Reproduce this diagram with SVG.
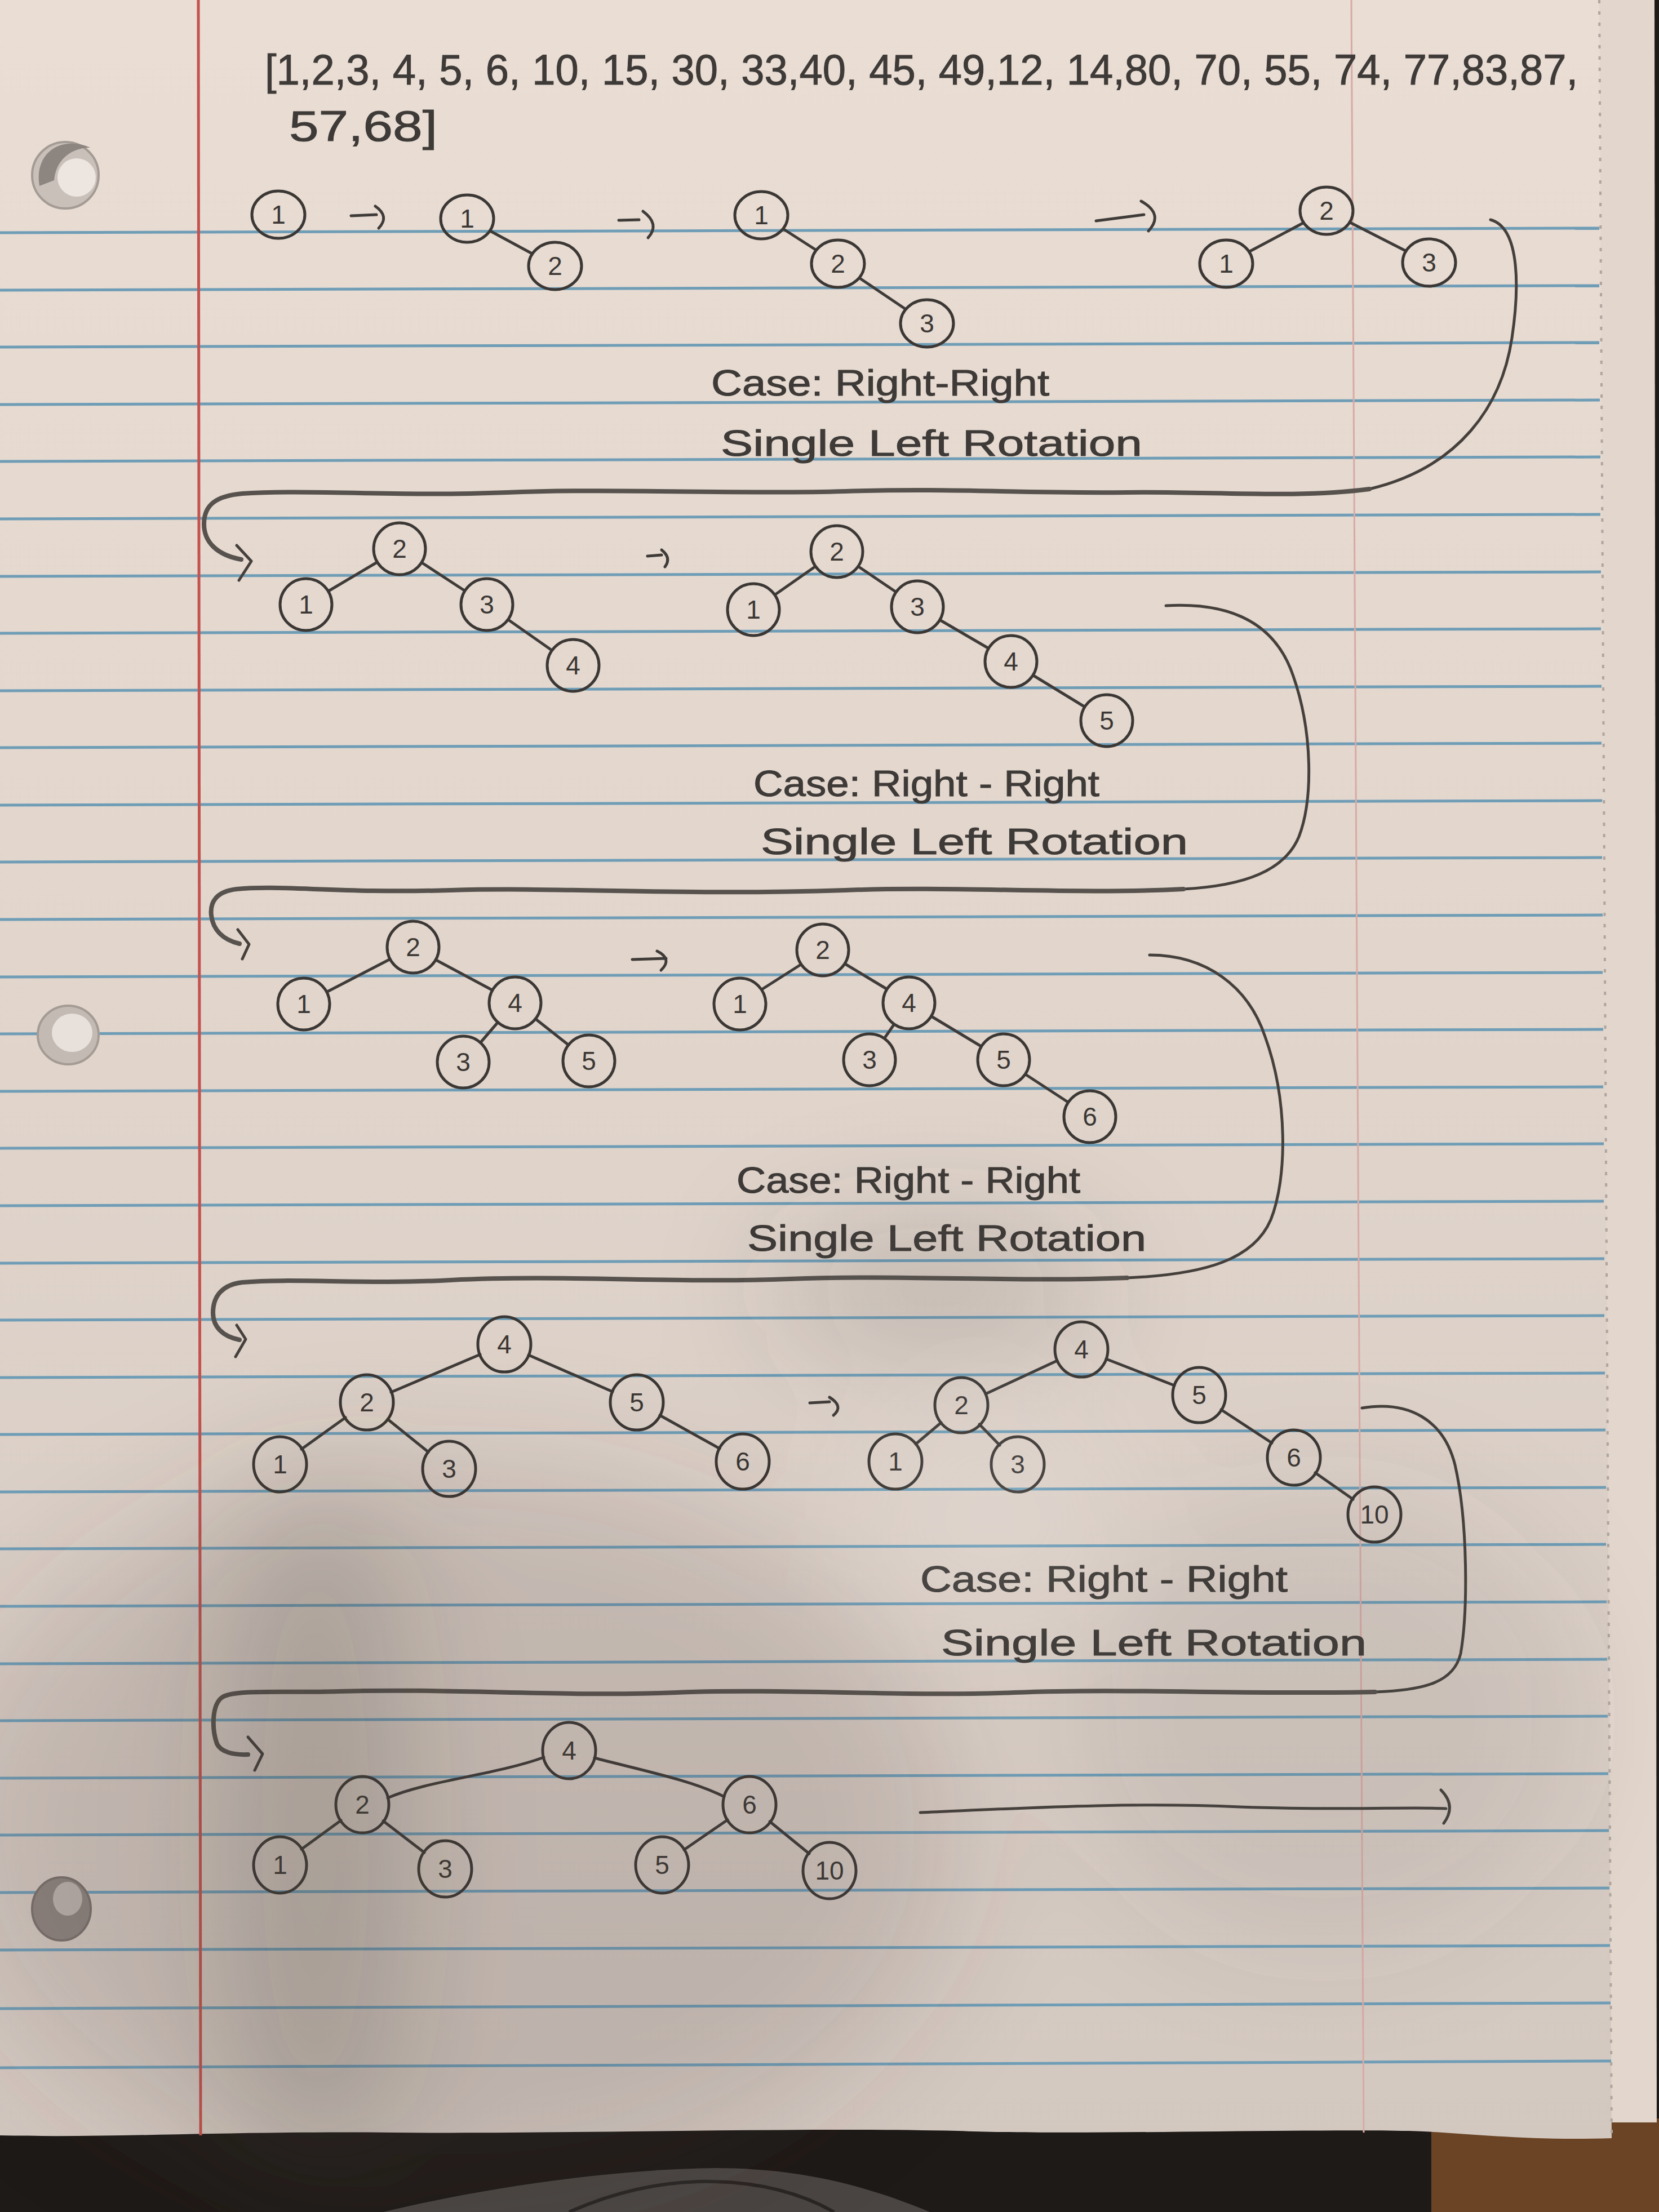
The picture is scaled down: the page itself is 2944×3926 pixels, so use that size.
<svg xmlns="http://www.w3.org/2000/svg" width="2944" height="3926" viewBox="0 0 2944 3926">
<defs>
<style>
.n ellipse{fill:none;stroke:#3b3734;stroke-width:5}
.n text{font-family:"Liberation Sans Narrow","Liberation Sans",sans-serif;font-size:46px;fill:#3b3734;text-anchor:middle}
.e{fill:none;stroke:#3f3b38;stroke-width:5;stroke-linecap:round;stroke-linejoin:round}
.flow{fill:none;stroke:#45403c;stroke-width:5;stroke-linecap:round;stroke-linejoin:round}
.flowb{fill:none;stroke:#57524d;stroke-width:8;stroke-linecap:round;stroke-linejoin:round}
.hand{font-family:"Liberation Sans Narrow","Liberation Sans",sans-serif;fill:#3e3a37;stroke:#3e3a37;stroke-width:1}
.blue{stroke:#6f9db6;stroke-width:5}
</style>
<linearGradient id="paperG" x1="0" y1="0" x2="0" y2="1">
<stop offset="0" stop-color="#e9ddd4"/>
<stop offset="0.5" stop-color="#e0d4cb"/>
<stop offset="1" stop-color="#d3c8c0"/>
</linearGradient>
<filter id="soft" x="-50%" y="-50%" width="200%" height="200%"><feGaussianBlur stdDeviation="110"/></filter>
</defs>

<!-- background / table -->
<rect x="0" y="0" width="2944" height="3926" fill="#1e1a17"/>
<rect x="2540" y="3760" width="404" height="166" fill="#6a4425"/>
<path d="M680,3926 C850,3885 1080,3850 1270,3848 C1420,3848 1540,3880 1650,3926 Z" fill="#4a4542"/>
<path d="M1010,3926 C1080,3895 1160,3874 1240,3872 C1340,3870 1420,3892 1480,3926" fill="none" stroke="#2a2624" stroke-width="6"/>

<!-- second sheet on right -->
<path d="M2830,0 L2936,0 L2940,3767 L2850,3767 Z" fill="#e2d6cd"/>
<!-- main sheet -->
<path d="M0,0 L2838,0 L2860,3795 C2700,3800 2600,3785 2500,3782 C2300,3778 1900,3790 1700,3782 C1400,3775 1000,3788 700,3785 C400,3782 200,3795 0,3790 Z" fill="url(#paperG)"/>
<line x1="2838" y1="0" x2="2860" y2="3790" stroke="#b0a69f" stroke-width="4" stroke-dasharray="6 14"/>

<!-- ruling -->
<g id="ruling">
<line class="blue" x1="0" y1="413" x2="2838" y2="405"/>
<line class="blue" x1="0" y1="515" x2="2838" y2="507"/>
<line class="blue" x1="0" y1="616" x2="2838" y2="608"/>
<line class="blue" x1="0" y1="718" x2="2839" y2="710"/>
<line class="blue" x1="0" y1="819" x2="2840" y2="811"/>
<line class="blue" x1="0" y1="921" x2="2840" y2="913"/>
<line class="blue" x1="0" y1="1023" x2="2841" y2="1015"/>
<line class="blue" x1="0" y1="1124" x2="2841" y2="1116"/>
<line class="blue" x1="0" y1="1226" x2="2842" y2="1218"/>
<line class="blue" x1="0" y1="1327" x2="2842" y2="1319"/>
<line class="blue" x1="0" y1="1429" x2="2843" y2="1421"/>
<line class="blue" x1="0" y1="1530" x2="2843" y2="1522"/>
<line class="blue" x1="0" y1="1632" x2="2844" y2="1624"/>
<line class="blue" x1="0" y1="1734" x2="2844" y2="1726"/>
<line class="blue" x1="0" y1="1835" x2="2845" y2="1827"/>
<line class="blue" x1="0" y1="1937" x2="2845" y2="1929"/>
<line class="blue" x1="0" y1="2038" x2="2846" y2="2030"/>
<line class="blue" x1="0" y1="2140" x2="2846" y2="2132"/>
<line class="blue" x1="0" y1="2242" x2="2847" y2="2234"/>
<line class="blue" x1="0" y1="2343" x2="2847" y2="2335"/>
<line class="blue" x1="0" y1="2445" x2="2848" y2="2437"/>
<line class="blue" x1="0" y1="2546" x2="2849" y2="2538"/>
<line class="blue" x1="0" y1="2648" x2="2850" y2="2640"/>
<line class="blue" x1="0" y1="2749" x2="2850" y2="2741"/>
<line class="blue" x1="0" y1="2851" x2="2851" y2="2843"/>
<line class="blue" x1="0" y1="2953" x2="2852" y2="2945"/>
<line class="blue" x1="0" y1="3054" x2="2853" y2="3046"/>
<line class="blue" x1="0" y1="3156" x2="2854" y2="3148"/>
<line class="blue" x1="0" y1="3257" x2="2855" y2="3249"/>
<line class="blue" x1="0" y1="3359" x2="2856" y2="3351"/>
<line class="blue" x1="0" y1="3461" x2="2857" y2="3453"/>
<line class="blue" x1="0" y1="3565" x2="2858" y2="3555"/>
<line class="blue" x1="0" y1="3670" x2="2859" y2="3658"/>
</g>
<line x1="352" y1="0" x2="356" y2="3790" stroke="#c4524e" stroke-width="5"/>
<line x1="2398" y1="0" x2="2420" y2="3785" stroke="#d8aaa5" stroke-width="3"/>

<!-- punched holes -->
<g id="holes">
<circle cx="116" cy="311" r="59" fill="#c9c0ba" stroke="#a49b95" stroke-width="4"/>
<path d="M70,330 C60,270 110,240 160,262 C130,262 100,280 96,320 Z" fill="#8d8580"/>
<circle cx="136" cy="315" r="34" fill="#ede6e0"/>
<ellipse cx="121" cy="1837" rx="54" ry="52" fill="#c3bab4" stroke="#a49b95" stroke-width="4"/>
<ellipse cx="128" cy="1833" rx="36" ry="34" fill="#e8e1db"/>
<ellipse cx="109" cy="3388" rx="52" ry="56" fill="#8e8580" stroke="#7b726d" stroke-width="4"/>
<ellipse cx="120" cy="3370" rx="26" ry="30" fill="#bdb5b0"/>
</g>

<!-- title -->
<g id="title">
<text class="hand" x="470" y="150" font-size="76" textLength="2330" lengthAdjust="spacingAndGlyphs">[1,2,3, 4, 5, 6, 10, 15, 30, 33,40, 45, 49,12, 14,80, 70, 55, 74, 77,83,87,</text>
<text class="hand" x="513" y="250" font-size="76" textLength="263" lengthAdjust="spacingAndGlyphs">57,68]</text>
</g>

<!-- connectors -->
<g id="connectors">
<!-- row 1 edges -->
<line class="e" x1="870" y1="410" x2="944" y2="450"/>
<line class="e" x1="1391" y1="407" x2="1447" y2="443"/>
<line class="e" x1="1526" y1="494" x2="1606" y2="548"/>
<line class="e" x1="2312" y1="396" x2="2218" y2="446"/>
<line class="e" x1="2396" y1="395" x2="2494" y2="445"/>
<!-- row 2 edges -->
<line class="e" x1="669" y1="998" x2="583" y2="1049"/>
<line class="e" x1="749" y1="999" x2="824" y2="1048"/>
<line class="e" x1="902" y1="1100" x2="979" y2="1154"/>
<line class="e" x1="1446" y1="1006" x2="1376" y2="1055"/>
<line class="e" x1="1524" y1="1006" x2="1589" y2="1050"/>
<line class="e" x1="1669" y1="1101" x2="1753" y2="1150"/>
<line class="e" x1="1834" y1="1199" x2="1924" y2="1254"/>
<!-- row 3 edges -->
<line class="e" x1="691" y1="1703" x2="581" y2="1760"/>
<line class="e" x1="774" y1="1704" x2="873" y2="1757"/>
<line class="e" x1="883" y1="1815" x2="853" y2="1850"/>
<line class="e" x1="951" y1="1809" x2="1008" y2="1854"/>
<line class="e" x1="1421" y1="1712" x2="1352" y2="1756"/>
<line class="e" x1="1500" y1="1711" x2="1573" y2="1755"/>
<line class="e" x1="1586" y1="1819" x2="1570" y2="1842"/>
<line class="e" x1="1653" y1="1804" x2="1741" y2="1857"/>
<line class="e" x1="1820" y1="1907" x2="1895" y2="1956"/>
<!-- row 4 edges -->
<line class="e" x1="852" y1="2404" x2="694" y2="2471"/>
<line class="e" x1="938" y1="2405" x2="1087" y2="2470"/>
<line class="e" x1="613" y1="2516" x2="535" y2="2572"/>
<line class="e" x1="688" y1="2519" x2="760" y2="2577"/>
<line class="e" x1="1171" y1="2512" x2="1277" y2="2571"/>
<line class="e" x1="1876" y1="2415" x2="1749" y2="2474"/>
<line class="e" x1="1963" y1="2412" x2="2084" y2="2459"/>
<line class="e" x1="1670" y1="2525" x2="1625" y2="2563"/>
<line class="e" x1="1738" y1="2528" x2="1774" y2="2565"/>
<line class="e" x1="2167" y1="2502" x2="2257" y2="2561"/>
<line class="e" x1="2334" y1="2614" x2="2401" y2="2661"/>
<!-- row 5 edges -->
<path class="e" d="M965,3119 C880,3150 760,3160 688,3191"/>
<path class="e" d="M1055,3120 C1130,3140 1230,3160 1285,3189"/>
<line class="e" x1="605" y1="3231" x2="535" y2="3282"/>
<line class="e" x1="680" y1="3232" x2="753" y2="3288"/>
<line class="e" x1="1291" y1="3230" x2="1214" y2="3283"/>
<line class="e" x1="1366" y1="3233" x2="1436" y2="3290"/>

<!-- step arrows -->
<path class="e" d="M623,383 L668,381 M666,366 Q692,384 672,405"/>
<path class="e" d="M1098,391 L1134,390 M1141,375 Q1172,398 1150,422"/>
<path class="e" d="M1945,392 L2030,381 M2025,357 Q2066,380 2038,410"/>
<path class="e" d="M1149,987 L1174,985 M1174,976 Q1192,990 1180,1006"/>
<path class="e" d="M1122,1703 L1182,1701 M1166,1688 Q1194,1702 1173,1722"/>
<path class="e" d="M1437,2490 L1472,2488 M1472,2480 Q1498,2496 1479,2512"/>
<path class="flow" d="M1633,3217 C1800,3210 2000,3198 2200,3207 C2400,3214 2500,3206 2566,3210 M2557,3177 Q2585,3205 2562,3236"/>

<!-- wrap-around connectors -->
<path class="flow" d="M2645,390 C2700,405 2695,520 2683,600 C2665,720 2590,830 2430,868"/>
<path class="flowb" d="M2430,868 C2300,885 2150,872 2000,874 C1800,876 1700,866 1500,872 C1300,878 1100,866 900,874 C700,882 550,868 430,876 C385,880 362,895 362,930 C362,962 385,985 428,993"/>
<path class="flow" d="M420,968 L446,996 L424,1030"/>

<path class="flow" d="M2069,1075 C2190,1068 2265,1110 2295,1200 C2330,1300 2330,1420 2305,1485 C2280,1545 2210,1572 2100,1578"/>
<path class="flowb" d="M2100,1578 C1900,1588 1700,1572 1500,1580 C1200,1590 1000,1574 800,1580 C600,1586 500,1570 420,1578 C385,1582 372,1600 375,1625 C378,1650 395,1668 425,1675"/>
<path class="flow" d="M422,1650 L442,1676 L430,1702"/>

<path class="flow" d="M2040,1695 C2140,1695 2215,1750 2245,1840 C2285,1950 2285,2090 2255,2165 C2225,2235 2140,2262 2000,2268"/>
<path class="flowb" d="M2000,2268 C1800,2276 1600,2262 1400,2270 C1200,2278 1000,2262 800,2272 C650,2280 520,2268 430,2276 C395,2280 378,2300 378,2330 C378,2355 395,2372 425,2378"/>
<path class="flow" d="M420,2352 L436,2377 L418,2408"/>

<path class="flow" d="M2417,2499 C2500,2485 2562,2520 2582,2600 C2605,2700 2605,2860 2592,2935 C2580,2985 2530,3000 2440,3003"/>
<path class="flowb" d="M2440,3003 C2200,3008 2000,2996 1800,3004 C1600,3012 1400,2996 1200,3004 C1000,3012 800,2996 600,3002 C500,3005 420,2998 395,3012 C375,3025 376,3070 385,3095 C392,3110 415,3115 440,3114"/>
<path class="flow" d="M440,3083 L466,3113 L452,3142"/>
</g>

<!-- nodes row 1 -->
<g id="r1-a-1" class="n"><ellipse cx="494" cy="381" rx="47" ry="42"/><text x="494" y="397">1</text></g>
<g id="r1-b-1" class="n"><ellipse cx="829" cy="388" rx="47" ry="42"/><text x="829" y="404">1</text></g>
<g id="r1-b-2" class="n"><ellipse cx="985" cy="472" rx="47" ry="42"/><text x="985" y="488">2</text></g>
<g id="r1-c-1" class="n"><ellipse cx="1351" cy="382" rx="47" ry="42"/><text x="1351" y="398">1</text></g>
<g id="r1-c-2" class="n"><ellipse cx="1487" cy="468" rx="47" ry="42"/><text x="1487" y="484">2</text></g>
<g id="r1-c-3" class="n"><ellipse cx="1645" cy="574" rx="47" ry="42"/><text x="1645" y="590">3</text></g>
<g id="r1-d-2" class="n"><ellipse cx="2354" cy="374" rx="47" ry="42"/><text x="2354" y="390">2</text></g>
<g id="r1-d-1" class="n"><ellipse cx="2176" cy="468" rx="47" ry="42"/><text x="2176" y="484">1</text></g>
<g id="r1-d-3" class="n"><ellipse cx="2536" cy="466" rx="47" ry="42"/><text x="2536" y="482">3</text></g>

<!-- nodes row 2 -->
<g id="r2-a-2" class="n"><ellipse cx="709" cy="974" rx="46" ry="46"/><text x="709" y="990">2</text></g>
<g id="r2-a-1" class="n"><ellipse cx="543" cy="1073" rx="46" ry="46"/><text x="543" y="1089">1</text></g>
<g id="r2-a-3" class="n"><ellipse cx="864" cy="1073" rx="46" ry="46"/><text x="864" y="1089">3</text></g>
<g id="r2-a-4" class="n"><ellipse cx="1017" cy="1181" rx="46" ry="46"/><text x="1017" y="1197">4</text></g>
<g id="r2-b-2" class="n"><ellipse cx="1485" cy="979" rx="46" ry="46"/><text x="1485" y="995">2</text></g>
<g id="r2-b-1" class="n"><ellipse cx="1337" cy="1082" rx="46" ry="46"/><text x="1337" y="1098">1</text></g>
<g id="r2-b-3" class="n"><ellipse cx="1628" cy="1077" rx="46" ry="46"/><text x="1628" y="1093">3</text></g>
<g id="r2-b-4" class="n"><ellipse cx="1794" cy="1174" rx="46" ry="46"/><text x="1794" y="1190">4</text></g>
<g id="r2-b-5" class="n"><ellipse cx="1964" cy="1279" rx="46" ry="46"/><text x="1964" y="1295">5</text></g>

<!-- nodes row 3 -->
<g id="r3-a-2" class="n"><ellipse cx="733" cy="1681" rx="46" ry="46"/><text x="733" y="1697">2</text></g>
<g id="r3-a-1" class="n"><ellipse cx="539" cy="1782" rx="46" ry="46"/><text x="539" y="1798">1</text></g>
<g id="r3-a-4" class="n"><ellipse cx="914" cy="1780" rx="46" ry="46"/><text x="914" y="1796">4</text></g>
<g id="r3-a-3" class="n"><ellipse cx="822" cy="1885" rx="46" ry="46"/><text x="822" y="1901">3</text></g>
<g id="r3-a-5" class="n"><ellipse cx="1045" cy="1883" rx="46" ry="46"/><text x="1045" y="1899">5</text></g>
<g id="r3-b-2" class="n"><ellipse cx="1460" cy="1686" rx="46" ry="46"/><text x="1460" y="1702">2</text></g>
<g id="r3-b-1" class="n"><ellipse cx="1313" cy="1782" rx="46" ry="46"/><text x="1313" y="1798">1</text></g>
<g id="r3-b-4" class="n"><ellipse cx="1613" cy="1780" rx="46" ry="46"/><text x="1613" y="1796">4</text></g>
<g id="r3-b-3" class="n"><ellipse cx="1543" cy="1881" rx="46" ry="46"/><text x="1543" y="1897">3</text></g>
<g id="r3-b-5" class="n"><ellipse cx="1781" cy="1881" rx="46" ry="46"/><text x="1781" y="1897">5</text></g>
<g id="r3-b-6" class="n"><ellipse cx="1934" cy="1982" rx="46" ry="46"/><text x="1934" y="1998">6</text></g>

<!-- nodes row 4 -->
<g id="r4-a-4" class="n"><ellipse cx="895" cy="2386" rx="47" ry="49"/><text x="895" y="2402">4</text></g>
<g id="r4-a-2" class="n"><ellipse cx="651" cy="2489" rx="47" ry="49"/><text x="651" y="2505">2</text></g>
<g id="r4-a-5" class="n"><ellipse cx="1130" cy="2489" rx="47" ry="49"/><text x="1130" y="2505">5</text></g>
<g id="r4-a-1" class="n"><ellipse cx="497" cy="2599" rx="47" ry="49"/><text x="497" y="2615">1</text></g>
<g id="r4-a-3" class="n"><ellipse cx="797" cy="2607" rx="47" ry="49"/><text x="797" y="2623">3</text></g>
<g id="r4-a-6" class="n"><ellipse cx="1318" cy="2594" rx="47" ry="49"/><text x="1318" y="2610">6</text></g>
<g id="r4-b-4" class="n"><ellipse cx="1919" cy="2395" rx="47" ry="49"/><text x="1919" y="2411">4</text></g>
<g id="r4-b-2" class="n"><ellipse cx="1706" cy="2494" rx="47" ry="49"/><text x="1706" y="2510">2</text></g>
<g id="r4-b-5" class="n"><ellipse cx="2128" cy="2476" rx="47" ry="49"/><text x="2128" y="2492">5</text></g>
<g id="r4-b-1" class="n"><ellipse cx="1589" cy="2594" rx="47" ry="49"/><text x="1589" y="2610">1</text></g>
<g id="r4-b-3" class="n"><ellipse cx="1806" cy="2599" rx="47" ry="49"/><text x="1806" y="2615">3</text></g>
<g id="r4-b-6" class="n"><ellipse cx="2296" cy="2587" rx="47" ry="49"/><text x="2296" y="2603">6</text></g>
<g id="r4-b-10" class="n"><ellipse cx="2439" cy="2688" rx="47" ry="49"/><text x="2439" y="2704">10</text></g>

<!-- nodes row 5 -->
<g id="r5-4" class="n"><ellipse cx="1010" cy="3107" rx="47" ry="50"/><text x="1010" y="3123">4</text></g>
<g id="r5-2" class="n"><ellipse cx="643" cy="3203" rx="47" ry="50"/><text x="643" y="3219">2</text></g>
<g id="r5-6" class="n"><ellipse cx="1330" cy="3203" rx="47" ry="50"/><text x="1330" y="3219">6</text></g>
<g id="r5-1" class="n"><ellipse cx="497" cy="3310" rx="47" ry="50"/><text x="497" y="3326">1</text></g>
<g id="r5-3" class="n"><ellipse cx="790" cy="3317" rx="47" ry="50"/><text x="790" y="3333">3</text></g>
<g id="r5-5" class="n"><ellipse cx="1175" cy="3310" rx="47" ry="50"/><text x="1175" y="3326">5</text></g>
<g id="r5-10" class="n"><ellipse cx="1472" cy="3320" rx="47" ry="50"/><text x="1472" y="3336">10</text></g>

<!-- case labels -->
<g id="labels">
<text class="hand" x="1262" y="702" font-size="64" textLength="600" lengthAdjust="spacingAndGlyphs">Case: Right-Right</text>
<text class="hand" x="1279" y="809" font-size="64" textLength="748" lengthAdjust="spacingAndGlyphs">Single Left Rotation</text>
<text class="hand" x="1337" y="1413" font-size="64" textLength="614" lengthAdjust="spacingAndGlyphs">Case: Right - Right</text>
<text class="hand" x="1350" y="1516" font-size="64" textLength="758" lengthAdjust="spacingAndGlyphs">Single Left Rotation</text>
<text class="hand" x="1307" y="2117" font-size="64" textLength="610" lengthAdjust="spacingAndGlyphs">Case: Right - Right</text>
<text class="hand" x="1326" y="2220" font-size="64" textLength="708" lengthAdjust="spacingAndGlyphs">Single Left Rotation</text>
<text class="hand" x="1633" y="2825" font-size="64" textLength="652" lengthAdjust="spacingAndGlyphs">Case: Right - Right</text>
<text class="hand" x="1670" y="2938" font-size="64" textLength="755" lengthAdjust="spacingAndGlyphs">Single Left Rotation</text>
</g>

<!-- photographic shading -->
<g id="shading" filter="url(#soft)" pointer-events="none">
<ellipse cx="800" cy="3250" rx="900" ry="650" fill="#4f4741" opacity="0.16"/>
<ellipse cx="560" cy="3250" rx="170" ry="650" fill="#3e3733" opacity="0.2"/>
<ellipse cx="1660" cy="2290" rx="300" ry="120" fill="#4f4741" opacity="0.18"/>
<ellipse cx="2350" cy="3050" rx="450" ry="400" fill="#4f4741" opacity="0.1"/>
<ellipse cx="1760" cy="2690" rx="170" ry="130" fill="#ffffff" opacity="0.15"/>
</g>
</svg>
